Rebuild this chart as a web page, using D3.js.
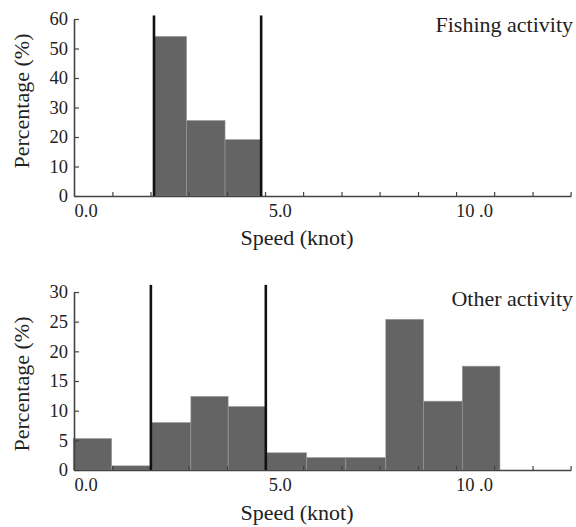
<!DOCTYPE html>
<html>
<head>
<meta charset="utf-8">
<script src="https://cdn.jsdelivr.net/npm/d3@7"></script>
<style>
  body { margin: 0; background: #fff; }
  text { font-family: "Liberation Serif", "Times New Roman", serif; fill: #222; }
</style>
</head>
<body>
<script>
const WIDTH = 576;
const HEIGHT = 527;

// speed bins (knots) and percentages
const fishingEdges = [1.76, 2.60, 3.59, 4.52];
const fishingPct = [54.1, 25.6, 19.1];
const fishingLines = [1.76, 4.52];

const otherEdges = [-0.32, 0.67, 1.68, 2.71, 3.67, 4.64, 5.69, 6.70, 7.73, 8.70, 9.70, 10.67];
const otherPct = [5.3, 0.7, 8.0, 12.4, 10.7, 2.9, 2.1, 2.1, 25.4, 11.6, 17.5];
const otherLines = [1.68, 4.64];

const minorTicks = [0.69, 1.67, 2.65, 3.64, 4.62, 5.6, 6.59, 7.57, 8.56, 9.54, 10.52, 11.51, 12.49];
const labelTicks = [0, 5, 10];
const labelText = ["0.0", "5.0", "10 .0"];

const fishingYTicks = [0, 10, 20, 30, 40, 50, 60];
const otherYTicks = [0, 5, 10, 15, 20, 25, 30];

function setup(){
    let svg = d3.select("body")
        .append("svg")
        .attr("width", WIDTH)
        .attr("height", HEIGHT);
    svg.append("rect").attr("width", WIDTH).attr("height", HEIGHT).attr("fill", "#fff");

    let x = d3.scaleLinear().domain([-0.3, 12.5]).range([74, 571]);

    panel(svg, x, {
        edges: fishingEdges, pct: fishingPct, lines: fishingLines,
        yTicks: fishingYTicks, yMax: 60, lineTop: 61.2,
        bottom: 196, top: 19, title: "Fishing activity", titleY: 32,
        yLabelY: 101, xLabelY: 245
    });
    panel(svg, x, {
        edges: otherEdges, pct: otherPct, lines: otherLines,
        yTicks: otherYTicks, yMax: 30, lineTop: 31.2,
        bottom: 470, top: 292, title: "Other activity", titleY: 306,
        yLabelY: 384, xLabelY: 520
    });
}

function panel(svg, x, o){
    let y = d3.scaleLinear().domain([0, o.yMax]).range([o.bottom, o.top]);
    let g = svg.append("g");

    let bins = o.pct.map((v, i) => ({x0: o.edges[i], x1: o.edges[i + 1], v: v}));
    g.selectAll(".bar")
        .data(bins)
        .enter()
        .append("rect")
        .attr("class", "bar")
        .attr("x", d => x(d.x0))
        .attr("width", d => x(d.x1) - x(d.x0))
        .attr("y", d => y(d.v))
        .attr("height", d => y(0) - y(d.v))
        .style("fill", "#646464")
        .style("stroke", "#9a9a9a")
        .style("stroke-width", 0.6);

    // x axis: small inward ticks, then the value labels
    let xa = g.append("g")
        .attr("transform", `translate(0,${o.bottom})`)
        .call(d3.axisBottom(x).tickValues(minorTicks).tickSizeInner(-4).tickSizeOuter(0).tickFormat(""));
    xa.select(".domain").style("stroke", "#444").style("stroke-width", 1.6);
    xa.selectAll(".tick line").style("stroke", "#444").style("stroke-width", 1.2);

    let xl = g.append("g")
        .attr("transform", `translate(0,${o.bottom})`)
        .call(d3.axisBottom(x).tickValues(labelTicks).tickSize(0).tickPadding(8)
            .tickFormat((d, i) => labelText[i]));
    xl.select(".domain").remove();
    xl.selectAll("text").style("font-size", "18.5px").style("font-family", "Liberation Serif, serif").style("fill", "#222");

    let ya = g.append("g")
        .attr("transform", `translate(${x.range()[0]},0)`)
        .call(d3.axisLeft(y).tickValues(o.yTicks).tickSizeInner(-5).tickSizeOuter(0).tickPadding(6));
    ya.select(".domain").style("stroke", "#444").style("stroke-width", 1.6);
    ya.selectAll(".tick line").style("stroke", "#444").style("stroke-width", 1.2);
    ya.selectAll("text").style("font-size", "18.5px").style("font-family", "Liberation Serif, serif").style("fill", "#222");

    // threshold lines
    g.selectAll(".thr")
        .data(o.lines)
        .enter()
        .append("line")
        .attr("class", "thr")
        .attr("x1", d => x(d)).attr("x2", d => x(d))
        .attr("y1", y(0)).attr("y2", y(o.lineTop))
        .style("stroke", "#111")
        .style("stroke-width", 2.6);

    g.append("text")
        .attr("x", x.range()[1] + 2)
        .attr("y", o.titleY)
        .attr("text-anchor", "end")
        .style("font-size", "22px")
        .text(o.title);

    g.append("text")
        .attr("transform", `translate(28.5,${o.yLabelY}) rotate(-90)`)
        .attr("text-anchor", "middle")
        .style("font-size", "22px")
        .text("Percentage (%)");

    g.append("text")
        .attr("x", 297)
        .attr("y", o.xLabelY)
        .attr("text-anchor", "middle")
        .style("font-size", "22px")
        .text("Speed (knot)");
}

window.addEventListener("load", setup);
</script>
</body>
</html>
